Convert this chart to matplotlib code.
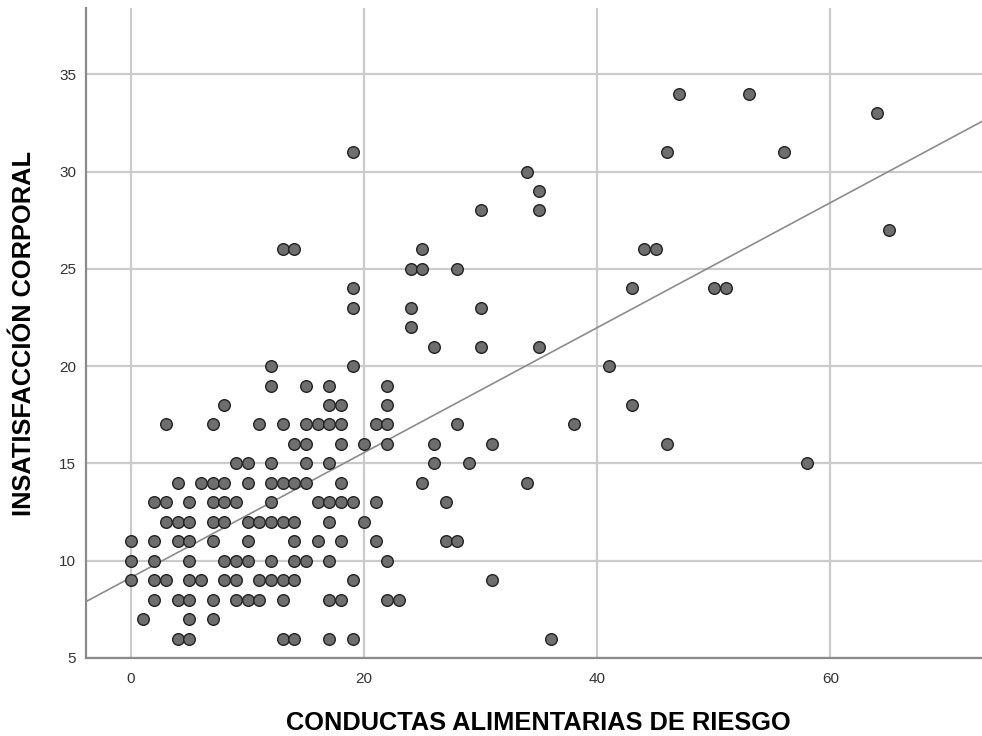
import numpy as np
import matplotlib.pyplot as plt

# CONDUCTAS ALIMENTARIAS DE RIESGO (x) grouped by INSATISFACCION CORPORAL value (y)
rows = {
    6: [4, 5, 13, 14, 17, 19, 36],
    7: [1, 5, 7],
    8: [2, 4, 5, 7, 9, 10, 11, 13, 17, 18, 22, 23],
    9: [0, 2, 3, 5, 6, 8, 9, 11, 12, 13, 14, 19, 31],
    10: [0, 2, 5, 8, 9, 10, 12, 14, 15, 17, 22],
    11: [0, 2, 4, 5, 7, 10, 14, 16, 18, 21, 27, 28],
    12: [3, 4, 5, 7, 8, 10, 11, 12, 13, 14, 17, 20],
    13: [2, 3, 5, 7, 8, 9, 12, 16, 17, 18, 19, 21, 27],
    14: [4, 6, 7, 8, 10, 12, 13, 14, 15, 18, 25, 34],
    15: [9, 10, 12, 15, 17, 26, 29, 58],
    16: [14, 15, 18, 20, 22, 26, 31, 46],
    17: [3, 7, 11, 13, 15, 16, 17, 18, 21, 22, 28, 38],
    18: [8, 17, 18, 22, 43],
    19: [12, 15, 17, 22],
    20: [12, 19, 41],
    21: [26, 30, 35],
    22: [24],
    23: [19, 24, 30],
    24: [19, 43, 50, 51],
    25: [24, 25, 28],
    26: [13, 14, 25, 44, 45],
    27: [65],
    28: [30, 35],
    29: [35],
    30: [34],
    31: [19, 46, 56],
    33: [64],
    34: [47, 53],
}

x = np.array([v for k in rows for v in rows[k]], dtype=float)
y = np.array([k for k in rows for v in rows[k]], dtype=float)

xticks = [0, 20, 40, 60]
yticks = [5, 10, 15, 20, 25, 30, 35]

plt.rcParams['font.family'] = ['Liberation Sans', 'DejaVu Sans']

fig = plt.figure(figsize=(9.82, 7.36), dpi=100)
ax = fig.add_axes([0.0876, 0.106, 0.9124, 0.883])

xlim = (-3.86, 73.0)
ylim = (5, 38.4)

# linear fit line
slope, icpt = np.polyfit(x, y, 1)
xs = np.array(xlim)
ax.plot(xs, icpt + slope * xs, color='#8c8c8c', lw=1.2, zorder=2)

ax.scatter(x, y, s=70, facecolor='#6e6e6e', edgecolor='#222222', linewidth=1.0, zorder=3)

ax.set_xlim(*xlim)
ax.set_ylim(*ylim)
ax.set_xticks(xticks)
ax.set_yticks(yticks)
ax.grid(True, color='#cbcbcb', lw=1.6, zorder=0)
ax.set_axisbelow(True)
ax.tick_params(length=0, labelsize=11, colors='#333333')
ax.tick_params(axis='x', pad=10)
ax.tick_params(axis='y', pad=7)

for s in ['top', 'right']:
    ax.spines[s].set_visible(False)
for s in ['left', 'bottom']:
    ax.spines[s].set_color('#8a8a8a')
    ax.spines[s].set_linewidth(1.6)

ax.set_xlabel('CONDUCTAS ALIMENTARIAS DE RIESGO', fontsize=18.3, fontweight='bold', va='center')
ax.set_ylabel('INSATISFACCIÓN CORPORAL', fontsize=18.3, fontweight='bold', va='center')
ax.xaxis.set_label_coords(0.505, -0.1)
ax.yaxis.set_label_coords(-0.069, 0.5)

fig.savefig('out.png', dpi=100)
